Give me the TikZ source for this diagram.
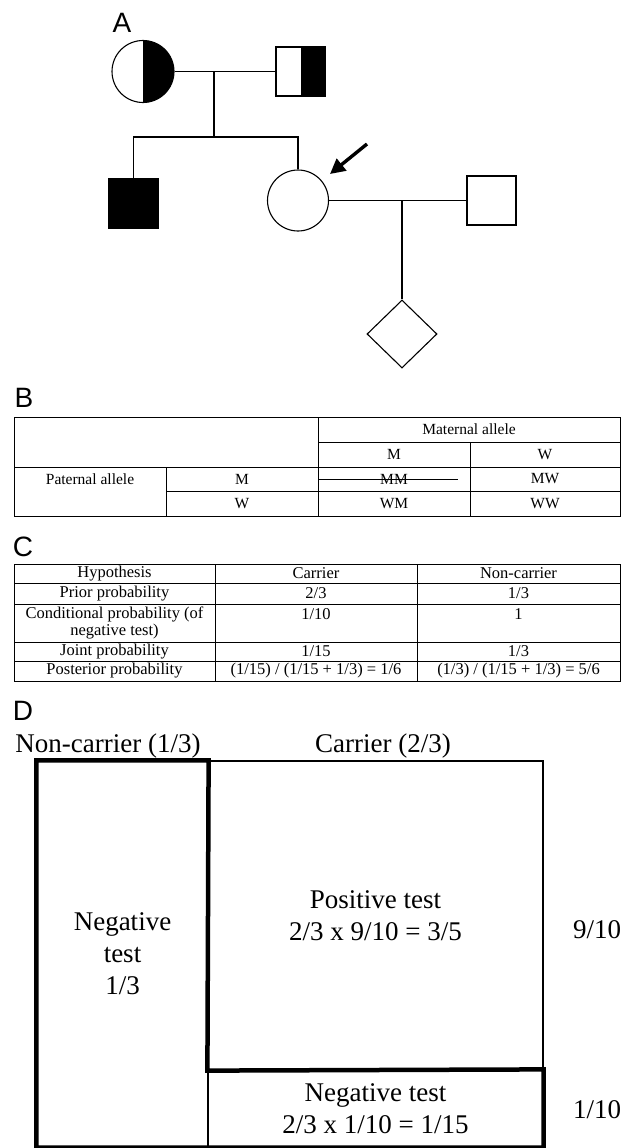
\documentclass[tikz,border=0pt]{standalone}
\usepackage{fontspec}
\setmainfont{Liberation Serif}
\newfontfamily\labfont{Liberation Sans}
\usetikzlibrary{shapes.geometric,arrows.meta}
\begin{document}
\begin{tikzpicture}[x=1pt,y=-1pt,
  thinline/.style={line width=1.1pt},
  tabline/.style={line width=0.9pt},
  panellabel/.style={font=\labfont\fontsize{28}{28}\selectfont, inner sep=0},
  tabB/.style={font=\fontsize{15.5}{17}\selectfont, inner sep=0},
  tabC/.style={font=\fontsize{16.5}{17}\selectfont, inner sep=0, align=center},
  dtext/.style={font=\fontsize{27}{32}\selectfont, inner sep=0, align=center},
  female/.style={circle, draw, line width=1.1pt, minimum size=62pt, inner sep=0},
  male/.style={rectangle, draw, line width=1.1pt, minimum size=49pt, inner sep=0},
  halffill/.style={path picture={\fill (path picture bounding box.north) rectangle (path picture bounding box.south east);}},
  region/.style={rectangle, draw, line width=1.2pt, inner sep=0, align=center, font=\fontsize{27}{32}\selectfont},
  thickbox/.style={line width=4.5pt, line join=miter},
]
\useasboundingbox[fill=white] (0,0) rectangle (622,1148);

% ---------- A : pedigree ----------
\node[panellabel] (labA) at (122,22.5) {A};
\node[female, halffill] (mother) at (143,71.5) {};
\node[male, halffill] (father) at (300.5,71.5) {};
\draw[thinline] (mother.east) -- (father.west);
\coordinate (m1) at (214,71.5);
\coordinate (sib) at (214,137);
\draw[thinline] (m1) -- (sib);
\node[male, fill=black] (brother) at (133.5,203.5) {};
\node[female, minimum size=61pt] (proband) at (298,200.5) {};
\draw[thinline] (brother.north) -- (brother.north |- sib) -- (sib -| proband.north) -- (proband.north);
\coordinate (arrS) at (367,144);
\coordinate (arrT) at (330,174);
\draw[line width=3.4pt, -{Triangle[length=15pt,width=15pt]}] (arrS) -- (arrT);
\node[male] (husband) at (491.5,200.5) {};
\draw[thinline] (proband.east) -- (husband.west);
\coordinate (m2) at (402,200.5);
\node[diamond, draw, line width=1.1pt, inner sep=0, minimum width=70pt, minimum height=68pt] (fetus) at (402,334) {};
\draw[thinline] (m2) -- (fetus.north);

% ---------- B : Punnett table ----------
\node[panellabel] (labB) at (24,398) {B};
\draw[tabline] (14,417) rectangle (620,516);
\draw[tabline] (318,417) -- (318,516);
\draw[tabline] (318,442) -- (620,442);
\draw[tabline] (14,467) -- (620,467);
\draw[tabline] (166,491) -- (620,491);
\draw[tabline] (166,467) -- (166,516);
\draw[tabline] (470,442) -- (470,516);
\node[tabB] (bmat) at (469,429.5) {Maternal allele};
\node[tabB] (bmM) at (394,454.5) {M};
\node[tabB] (bmW) at (545,454.5) {W};
\node[tabB] (bpat) at (90,479) {Paternal allele};
\node[tabB] (bpM) at (242,479) {M};
\node[tabB] (bMM) at (394,479) {MM};
\node[tabB] (bMW) at (545,479) {MW};
\node[tabB] (bpW) at (242,503.5) {W};
\node[tabB] (bWM) at (394,503.5) {WM};
\node[tabB] (bWW) at (545,503.5) {WW};
\draw[line width=0.8pt] (319,479) -- (458,479);

% ---------- C : Bayesian table ----------
\node[panellabel] (labC) at (23,547) {C};
\draw[tabline] (14,564) rectangle (620,681);
\foreach \yy in {583,604,642,661} \draw[tabline] (14,\yy) -- (620,\yy);
\draw[tabline] (215,564) -- (215,681);
\draw[tabline] (417,564) -- (417,681);
\node[tabC] (c11) at (114.5,573.5) {Hypothesis};
\node[tabC] (c12) at (316,573.5) {Carrier};
\node[tabC] (c13) at (518.5,573.5) {Non-carrier};
\node[tabC] (c21) at (114.5,593.5) {Prior probability};
\node[tabC] (c22) at (316,593.5) {2/3};
\node[tabC] (c23) at (518.5,593.5) {1/3};
\node[tabC] (c31) at (114.5,623) {Conditional probability (of\\negative test)};
\node[tabC] (c32) at (316,614.5) {1/10};
\node[tabC] (c33) at (518.5,614.5) {1};
\node[tabC] (c41) at (114.5,651.5) {Joint probability};
\node[tabC] (c42) at (316,651.5) {1/15};
\node[tabC] (c43) at (518.5,651.5) {1/3};
\node[tabC] (c51) at (114.5,671) {Posterior probability};
\node[tabC] (c52) at (316,671) {(1/15) / (1/15 + 1/3) = 1/6};
\node[tabC] (c53) at (518.5,671) {(1/3) / (1/15 + 1/3) = 5/6};

% ---------- D : area diagram ----------
\node[panellabel] (labD) at (23,711) {D};
\node[dtext, anchor=base] (dnc) at (108,752) {Non-carrier (1/3)};
\node[dtext, anchor=base] (dc) at (383,752) {Carrier (2/3)};
\node[region, minimum width=171pt, minimum height=386pt] (noncar) at (122.5,954) {Negative\\test\\1/3};
\node[region, minimum width=335pt, minimum height=309pt] (pos) at (375.5,915.5) {Positive test\\2/3 x 9/10 = 3/5};
\node[region, minimum width=335pt, minimum height=77pt] (negc) at (375.5,1108.5) {Negative test\\2/3 x 1/10 = 1/15};
\draw[thickbox] (noncar.south west) -- (noncar.north west) -- (noncar.north east) -- (pos.south west) -- (negc.north east) -- (negc.south east) -- cycle;
\node[dtext] (d910) at (597,930) {9/10};
\node[dtext] (d110) at (597,1110) {1/10};
\end{tikzpicture}
\end{document}
